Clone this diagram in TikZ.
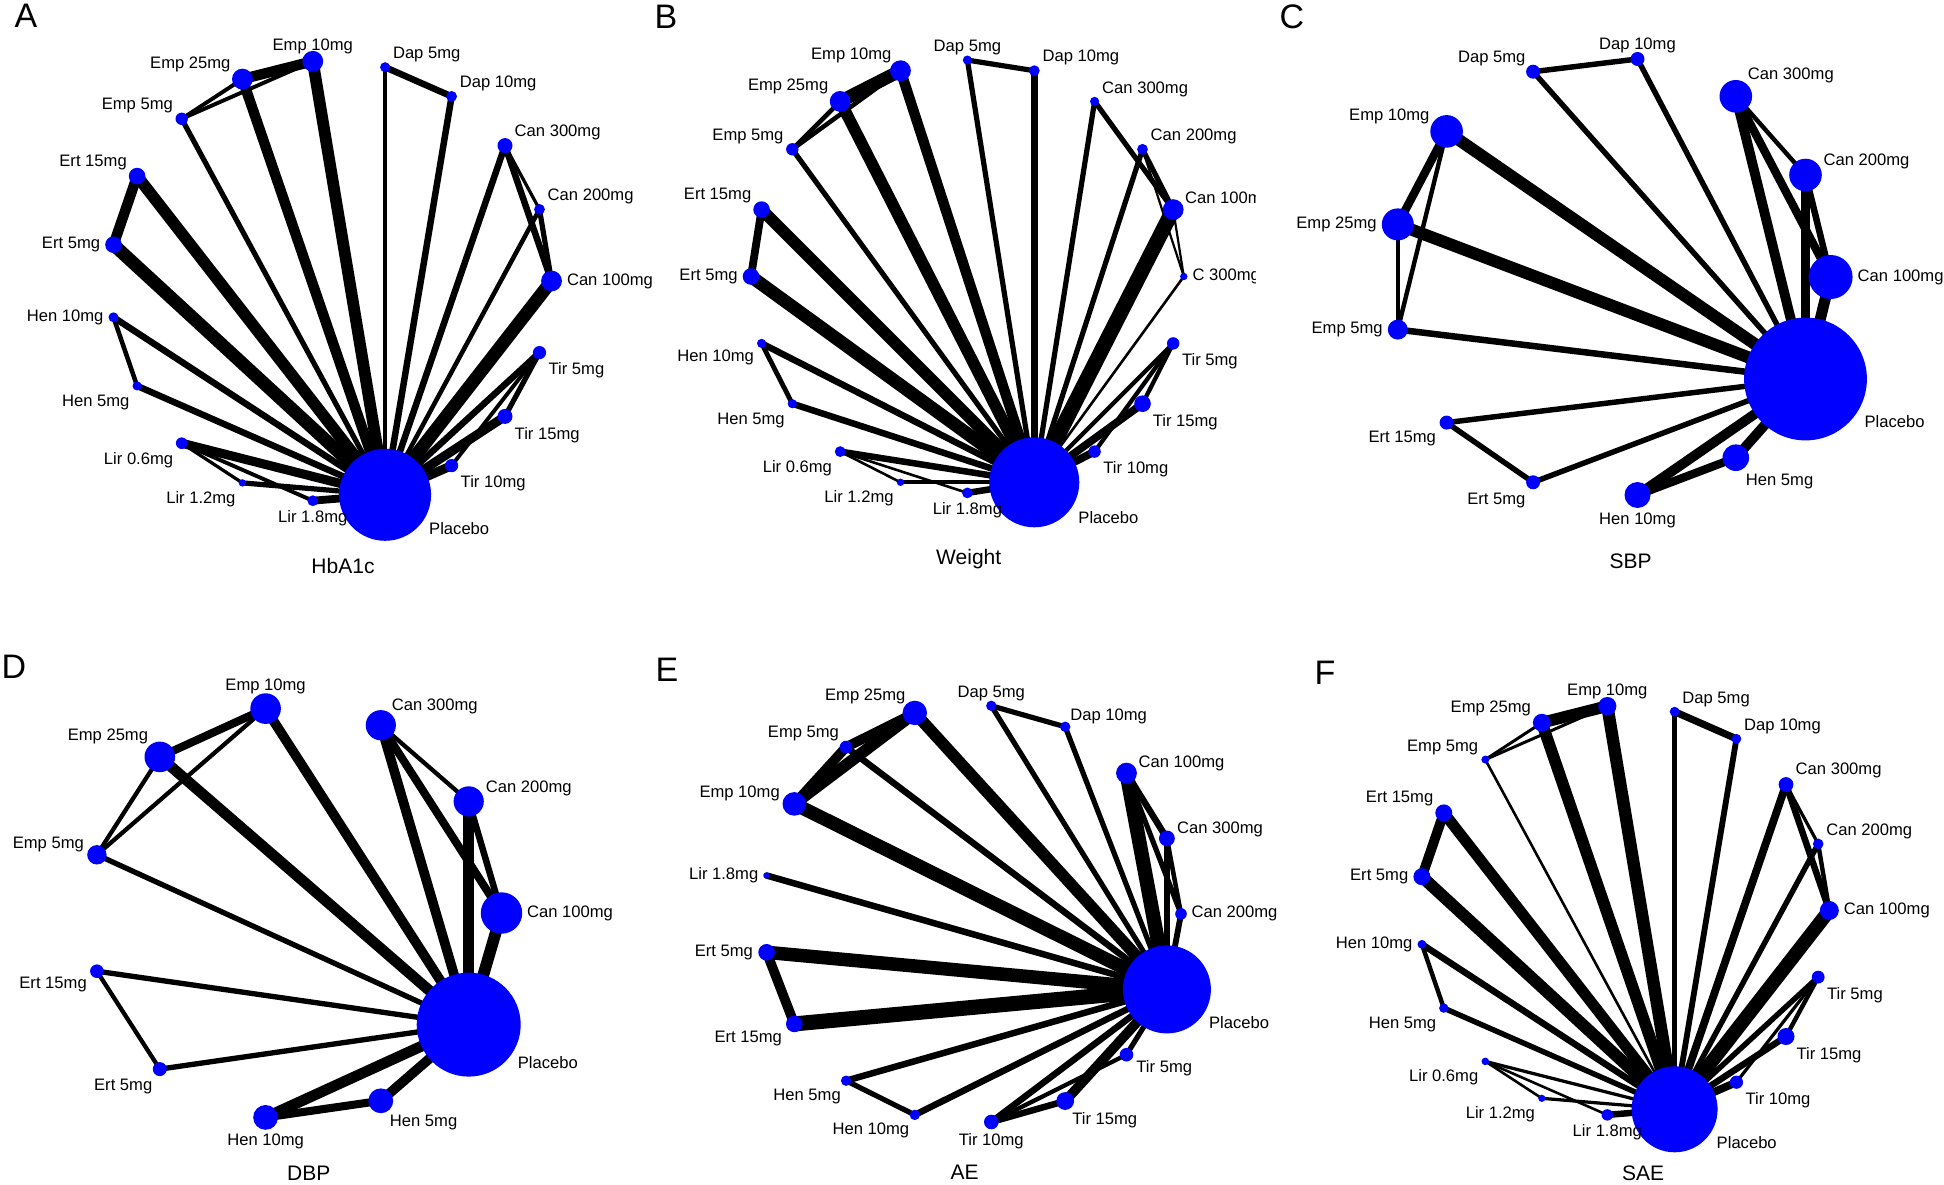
\documentclass[tikz,border=0pt]{standalone}
\usepackage{fontspec}
\setmainfont{Liberation Sans}
\usetikzlibrary{backgrounds}

\tikzset{every picture/.style={line width=0.75pt}}
\tikzset{
  trt/.style={circle, fill={rgb, 255:red, 0; green, 0; blue, 255}, draw=none, inner sep=0pt},
  lbl/.style={inner sep=0.75pt, font=\fontsize{16.6}{19.5}\selectfont},
  ttl/.style={inner sep=0.75pt, font=\fontsize{21}{25}\selectfont},
  pnl/.style={inner sep=0pt, font=\fontsize{34}{40}\selectfont},
  lnk/.style={draw=black, line cap=round, line width=1.3*#1},
}

\begin{document}
\begin{tikzpicture}[x=1pt,y=1pt,yscale=-1,xscale=1]
\useasboundingbox (0,0) rectangle (1944,1185);

% ---------------- Panel A : HbA1c ----------------
\node[pnl] (a-tag) at (26,16) {A};
\node[ttl] (a-ttl) at (343,566) {HbA1c};
\node[trt, minimum size=20.8] (a-can100) at (551.5,281.0) {};
\node[trt, minimum size=10.8] (a-can200) at (539.5,209.4) {};
\node[trt, minimum size=15]   (a-can300) at (505.0,145.6) {};
\node[trt, minimum size=10.8] (a-dap10) at (451.6,96.4) {};
\node[trt, minimum size=10]   (a-dap5) at (385.1,67.2) {};
\node[trt, minimum size=20.8] (a-emp10) at (312.8,61.3) {};
\node[trt, minimum size=20.8] (a-emp25) at (242.4,79.1) {};
\node[trt, minimum size=12.4] (a-emp5) at (181.7,118.8) {};
\node[trt, minimum size=16.6] (a-ert15) at (137.1,176.1) {};
\node[trt, minimum size=16.6] (a-ert5) at (113.5,244.7) {};
\node[trt, minimum size=10]   (a-hen10) at (113.5,317.3) {};
\node[trt, minimum size=9.2]  (a-hen5) at (137.1,385.9) {};
\node[trt, minimum size=11.6] (a-lir06) at (181.7,443.2) {};
\node[trt, minimum size=7.4]  (a-lir12) at (242.4,482.9) {};
\node[trt, minimum size=10.8] (a-lir18) at (312.8,500.7) {};
\node[trt, minimum size=92]   (a-pla) at (385.1,494.8) {};
\node[trt, minimum size=13.2] (a-tir10) at (451.6,465.6) {};
\node[trt, minimum size=15]   (a-tir15) at (505.0,416.4) {};
\node[trt, minimum size=13.2] (a-tir5) at (539.5,352.6) {};
% labels
\node[lbl, anchor=west] (a-can100-t) at ([shift={(14.4,0)}]a-can100.center) {Can 100mg};
\node[lbl, anchor=south west] (a-can200-t) at ([shift={(7.1,-4.2)}]a-can200.center) {Can 200mg};
\node[lbl, anchor=south west] (a-can300-t) at ([shift={(8.6,-5)}]a-can300.center) {Can 300mg};
\node[lbl, anchor=south west] (a-dap10-t) at ([shift={(7.1,-4.2)}]a-dap10.center) {Dap 10mg};
\node[lbl, anchor=south west] (a-dap5-t) at ([shift={(6.8,-4)}]a-dap5.center) {Dap 5mg};
\node[lbl, anchor=south] (a-emp10-t) at ([shift={(0,-6.2)}]a-emp10.center) {Emp 10mg};
\node[lbl, anchor=south east] (a-emp25-t) at ([shift={(-10.8,-6.2)}]a-emp25.center) {Emp 25mg};
\node[lbl, anchor=south east] (a-emp5-t) at ([shift={(-7.7,-4.5)}]a-emp5.center) {Emp 5mg};
\node[lbl, anchor=south east] (a-ert15-t) at ([shift={(-9.2,-5.3)}]a-ert15.center) {Ert 15mg};
\node[lbl, anchor=east] (a-ert5-t) at ([shift={(-12.3,0)}]a-ert5.center) {Ert 5mg};
\node[lbl, anchor=east] (a-hen10-t) at ([shift={(-9,0)}]a-hen10.center) {Hen 10mg};
\node[lbl, anchor=north east] (a-hen5-t) at ([shift={(-6.5,7.8)}]a-hen5.center) {Hen 5mg};
\node[lbl, anchor=north east] (a-lir06-t) at ([shift={(-7.4,8.5)}]a-lir06.center) {Lir 0.6mg};
\node[lbl, anchor=north east] (a-lir12-t) at ([shift={(-5.8,7.2)}]a-lir12.center) {Lir 1.2mg};
\node[lbl, anchor=north] (a-lir18-t) at ([shift={(0,8.2)}]a-lir18.center) {Lir 1.8mg};
\node[lbl, anchor=west] (a-pla-t) at ([shift={(43,34)}]a-pla.center) {Placebo};
\node[lbl, anchor=north west] (a-tir10-t) at ([shift={(8,9)}]a-tir10.center) {Tir 10mg};
\node[lbl, anchor=north west] (a-tir15-t) at ([shift={(8.6,9.5)}]a-tir15.center) {Tir 15mg};
\node[lbl, anchor=north west] (a-tir5-t) at ([shift={(8,9)}]a-tir5.center) {Tir 5mg};

% ---------------- Panel B : Weight ----------------
\node[pnl] (b-tag) at (666,17) {B};
\node[ttl] (b-ttl) at (968.7,558.8) {Weight};
\node[trt, minimum size=7.4]  (b-c300) at (1183.8,276.5) {};
\node[trt, minimum size=20.8] (b-can100) at (1173.2,209.6) {};
\node[trt, minimum size=10.8] (b-can200) at (1142.5,149.3) {};
\node[trt, minimum size=9.2]  (b-can300) at (1094.6,101.4) {};
\node[trt, minimum size=10.8] (b-dap10) at (1034.3,70.7) {};
\node[trt, minimum size=9.2]  (b-dap5) at (967.4,60.1) {};
\node[trt, minimum size=20.8] (b-emp10) at (900.5,70.7) {};
\node[trt, minimum size=20.8] (b-emp25) at (840.2,101.4) {};
\node[trt, minimum size=12.4] (b-emp5) at (792.3,149.3) {};
\node[trt, minimum size=16.6] (b-ert15) at (761.6,209.6) {};
\node[trt, minimum size=16.6] (b-ert5) at (751.0,276.5) {};
\node[trt, minimum size=9.2]  (b-hen10) at (761.6,343.4) {};
\node[trt, minimum size=9.2]  (b-hen5) at (792.3,403.7) {};
\node[trt, minimum size=10.8] (b-lir06) at (840.2,451.6) {};
\node[trt, minimum size=7.4]  (b-lir12) at (900.5,482.3) {};
\node[trt, minimum size=10.8] (b-lir18) at (967.4,492.9) {};
\node[trt, minimum size=90]   (b-pla) at (1034.3,482.3) {};
\node[trt, minimum size=12.4] (b-tir10) at (1094.6,451.6) {};
\node[trt, minimum size=16.6] (b-tir15) at (1142.5,403.7) {};
\node[trt, minimum size=12.4] (b-tir5) at (1173.2,343.4) {};
% labels
\begin{scope}
\clip (645,0) rectangle (1255,590);
\node[lbl, anchor=west] (b-c300-t) at ([shift={(7.7,0)}]b-c300.center) {C 300mg};
\node[lbl, anchor=south west] (b-can100-t) at ([shift={(10.8,-2)}]b-can100.center) {Can 100mg};
\end{scope}
\node[lbl, anchor=south west] (b-can200-t) at ([shift={(7.1,-4.2)}]b-can200.center) {Can 200mg};
\node[lbl, anchor=south west] (b-can300-t) at ([shift={(6.5,-3.8)}]b-can300.center) {Can 300mg};
\node[lbl, anchor=south west] (b-dap10-t) at ([shift={(7.1,-4.2)}]b-dap10.center) {Dap 10mg};
\node[lbl, anchor=south] (b-dap5-t) at ([shift={(0,-3.8)}]b-dap5.center) {Dap 5mg};
\node[lbl, anchor=south east] (b-emp10-t) at ([shift={(-8,-6.2)}]b-emp10.center) {Emp 10mg};
\node[lbl, anchor=south east] (b-emp25-t) at ([shift={(-10.8,-6.2)}]b-emp25.center) {Emp 25mg};
\node[lbl, anchor=south east] (b-emp5-t) at ([shift={(-7.7,-4.5)}]b-emp5.center) {Emp 5mg};
\node[lbl, anchor=south east] (b-ert15-t) at ([shift={(-9.2,-5.3)}]b-ert15.center) {Ert 15mg};
\node[lbl, anchor=east] (b-ert5-t) at ([shift={(-12.3,0)}]b-ert5.center) {Ert 5mg};
\node[lbl, anchor=north east] (b-hen10-t) at ([shift={(-6.5,5)}]b-hen10.center) {Hen 10mg};
\node[lbl, anchor=north east] (b-hen5-t) at ([shift={(-6.5,7.8)}]b-hen5.center) {Hen 5mg};
\node[lbl, anchor=north east] (b-lir06-t) at ([shift={(-7.1,8.2)}]b-lir06.center) {Lir 0.6mg};
\node[lbl, anchor=north east] (b-lir12-t) at ([shift={(-5.8,7.2)}]b-lir12.center) {Lir 1.2mg};
\node[lbl, anchor=north] (b-lir18-t) at ([shift={(0,8.2)}]b-lir18.center) {Lir 1.8mg};
\node[lbl, anchor=west] (b-pla-t) at ([shift={(43,35)}]b-pla.center) {Placebo};
\node[lbl, anchor=north west] (b-tir10-t) at ([shift={(7.7,8.7)}]b-tir10.center) {Tir 10mg};
\node[lbl, anchor=north west] (b-tir15-t) at ([shift={(9.2,10)}]b-tir15.center) {Tir 15mg};
\node[lbl, anchor=north west] (b-tir5-t) at ([shift={(7.7,8.7)}]b-tir5.center) {Tir 5mg};

% ---------------- Panel C : SBP ----------------
\node[pnl] (c-tag) at (1292,17) {C};
\node[ttl] (c-ttl) at (1630.7,561) {SBP};
\node[trt, minimum size=44]   (c-can100) at (1830.6,277.0) {};
\node[trt, minimum size=32.6] (c-can200) at (1805.5,175.0) {};
\node[trt, minimum size=32.6] (c-can300) at (1735.8,96.3) {};
\node[trt, minimum size=14]   (c-dap10) at (1637.5,59.0) {};
\node[trt, minimum size=14]   (c-dap5) at (1533.1,71.7) {};
\node[trt, minimum size=32.6] (c-emp10) at (1446.6,131.4) {};
\node[trt, minimum size=32]   (c-emp25) at (1397.8,224.4) {};
\node[trt, minimum size=20]   (c-emp5) at (1397.8,329.6) {};
\node[trt, minimum size=14]   (c-ert15) at (1446.6,422.6) {};
\node[trt, minimum size=14]   (c-ert5) at (1533.1,482.3) {};
\node[trt, minimum size=26]   (c-hen10) at (1637.5,495.0) {};
\node[trt, minimum size=26.6] (c-hen5) at (1735.8,457.7) {};
\node[trt, minimum size=122.8] (c-pla) at (1805.5,379.0) {};
% labels
\node[lbl, anchor=west] (c-can100-t) at ([shift={(26,0)}]c-can100.center) {Can 100mg};
\node[lbl, anchor=south west] (c-can200-t) at ([shift={(17,-4.5)}]c-can200.center) {Can 200mg};
\node[lbl, anchor=south west] (c-can300-t) at ([shift={(11,-12)}]c-can300.center) {Can 300mg};
\node[lbl, anchor=south] (c-dap10-t) at ([shift={(0,-4.8)}]c-dap10.center) {Dap 10mg};
\node[lbl, anchor=south east] (c-dap5-t) at ([shift={(-6.5,-4.8)}]c-dap5.center) {Dap 5mg};
\node[lbl, anchor=south east] (c-emp10-t) at ([shift={(-16,-6)}]c-emp10.center) {Emp 10mg};
\node[lbl, anchor=east] (c-emp25-t) at ([shift={(-20,0)}]c-emp25.center) {Emp 25mg};
\node[lbl, anchor=east] (c-emp5-t) at ([shift={(-14,0)}]c-emp5.center) {Emp 5mg};
\node[lbl, anchor=north east] (c-ert15-t) at ([shift={(-9.5,7)}]c-ert15.center) {Ert 15mg};
\node[lbl, anchor=north east] (c-ert5-t) at ([shift={(-6.5,10)}]c-ert5.center) {Ert 5mg};
\node[lbl, anchor=north] (c-hen10-t) at ([shift={(0,17)}]c-hen10.center) {Hen 10mg};
\node[lbl, anchor=north west] (c-hen5-t) at ([shift={(9,15)}]c-hen5.center) {Hen 5mg};
\node[lbl, anchor=west] (c-pla-t) at ([shift={(58,43)}]c-pla.center) {Placebo};

% ---------------- Panel D : DBP ----------------
\node[pnl] (d-tag) at (14,667) {D};
\node[ttl] (d-ttl) at (308.8,1173) {DBP};
\node[trt, minimum size=41.4] (d-can100) at (501.5,913.0) {};
\node[trt, minimum size=30.2] (d-can200) at (468.7,801.4) {};
\node[trt, minimum size=30.2] (d-can300) at (380.8,725.2) {};
\node[trt, minimum size=30.6] (d-emp10) at (265.6,708.6) {};
\node[trt, minimum size=30.6] (d-emp25) at (159.8,756.9) {};
\node[trt, minimum size=19.4] (d-emp5) at (96.9,854.8) {};
\node[trt, minimum size=13.6] (d-ert15) at (96.9,971.2) {};
\node[trt, minimum size=14]   (d-ert5) at (159.8,1069.1) {};
\node[trt, minimum size=24.8] (d-hen10) at (265.6,1117.4) {};
\node[trt, minimum size=24.8] (d-hen5) at (380.8,1100.8) {};
\node[trt, minimum size=104]  (d-pla) at (468.7,1024.6) {};
% labels
\node[lbl, anchor=west] (d-can100-t) at ([shift={(24.5,0)}]d-can100.center) {Can 100mg};
\node[lbl, anchor=south west] (d-can200-t) at ([shift={(16,-4)}]d-can200.center) {Can 200mg};
\node[lbl, anchor=south west] (d-can300-t) at ([shift={(10,-10.5)}]d-can300.center) {Can 300mg};
\node[lbl, anchor=south] (d-emp10-t) at ([shift={(0,-13.5)}]d-emp10.center) {Emp 10mg};
\node[lbl, anchor=south east] (d-emp25-t) at ([shift={(-10.6,-11.4)}]d-emp25.center) {Emp 25mg};
\node[lbl, anchor=south east] (d-emp5-t) at ([shift={(-11.9,-1.5)}]d-emp5.center) {Emp 5mg};
\node[lbl, anchor=north east] (d-ert15-t) at ([shift={(-9,5)}]d-ert15.center) {Ert 15mg};
\node[lbl, anchor=north east] (d-ert5-t) at ([shift={(-6.4,8.5)}]d-ert5.center) {Ert 5mg};
\node[lbl, anchor=north] (d-hen10-t) at ([shift={(0,15)}]d-hen10.center) {Hen 10mg};
\node[lbl, anchor=north west] (d-hen5-t) at ([shift={(8,12.8)}]d-hen5.center) {Hen 5mg};
\node[lbl, anchor=west] (d-pla-t) at ([shift={(48,38)}]d-pla.center) {Placebo};

% ---------------- Panel E : AE ----------------
\node[pnl] (e-tag) at (667,670) {E};
\node[ttl] (e-ttl) at (964.6,1172.5) {AE};
\node[trt, minimum size=11.6] (e-can200) at (1181.0,913.9) {};
\node[trt, minimum size=15.8] (e-can300) at (1166.9,838.4) {};
\node[trt, minimum size=20.8] (e-can100) at (1126.5,773.1) {};
\node[trt, minimum size=10.4] (e-dap10) at (1065.2,726.8) {};
\node[trt, minimum size=10.4] (e-dap5) at (991.3,705.8) {};
\node[trt, minimum size=24.4] (e-emp25) at (914.8,712.9) {};
\node[trt, minimum size=12.8] (e-emp5) at (846.1,747.1) {};
\node[trt, minimum size=23.6] (e-emp10) at (794.3,803.9) {};
\node[trt, minimum size=6.2]  (e-lir18) at (766.6,875.5) {};
\node[trt, minimum size=16.6] (e-ert5) at (766.6,952.3) {};
\node[trt, minimum size=16.6] (e-ert15) at (794.3,1023.9) {};
\node[trt, minimum size=10.4] (e-hen5) at (846.1,1080.7) {};
\node[trt, minimum size=10.4] (e-hen10) at (914.8,1114.9) {};
\node[trt, minimum size=14.6] (e-tir10) at (991.3,1122.0) {};
\node[trt, minimum size=17.8] (e-tir15) at (1065.2,1101.0) {};
\node[trt, minimum size=13.6] (e-tir5) at (1126.5,1054.7) {};
\node[trt, minimum size=88]   (e-pla) at (1166.9,989.4) {};
% labels
\node[lbl, anchor=west] (e-can200-t) at ([shift={(9.5,0)}]e-can200.center) {Can 200mg};
\node[lbl, anchor=south west] (e-can300-t) at ([shift={(9,0)}]e-can300.center) {Can 300mg};
\node[lbl, anchor=south west] (e-can100-t) at ([shift={(11,-1)}]e-can100.center) {Can 100mg};
\node[lbl, anchor=south west] (e-dap10-t) at ([shift={(4,-1.5)}]e-dap10.center) {Dap 10mg};
\node[lbl, anchor=south] (e-dap5-t) at ([shift={(0,-4.1)}]e-dap5.center) {Dap 5mg};
\node[lbl, anchor=south east] (e-emp25-t) at ([shift={(-8.3,-8)}]e-emp25.center) {Emp 25mg};
\node[lbl, anchor=south east] (e-emp5-t) at ([shift={(-6,-4.6)}]e-emp5.center) {Emp 5mg};
\node[lbl, anchor=south east] (e-emp10-t) at ([shift={(-13.4,-2)}]e-emp10.center) {Emp 10mg};
\node[lbl, anchor=east] (e-lir18-t) at ([shift={(-7.2,0)}]e-lir18.center) {Lir 1.8mg};
\node[lbl, anchor=east] (e-ert5-t) at ([shift={(-12.6,0)}]e-ert5.center) {Ert 5mg};
\node[lbl, anchor=north east] (e-ert15-t) at ([shift={(-11.3,6)}]e-ert15.center) {Ert 15mg};
\node[lbl, anchor=north east] (e-hen5-t) at ([shift={(-4.2,7)}]e-hen5.center) {Hen 5mg};
\node[lbl, anchor=north east] (e-hen10-t) at ([shift={(-4.5,7)}]e-hen10.center) {Hen 10mg};
\node[lbl, anchor=north] (e-tir10-t) at ([shift={(0,10)}]e-tir10.center) {Tir 10mg};
\node[lbl, anchor=north west] (e-tir15-t) at ([shift={(6,10)}]e-tir15.center) {Tir 15mg};
\node[lbl, anchor=north west] (e-tir5-t) at ([shift={(8.8,5)}]e-tir5.center) {Tir 5mg};
\node[lbl, anchor=west] (e-pla-t) at ([shift={(41,33)}]e-pla.center) {Placebo};

% ---------------- Panel F : SAE ----------------
\node[pnl] (f-tag) at (1325,673) {F};
\node[ttl] (f-ttl) at (1643,1173) {SAE};
\node[trt, minimum size=19]   (f-can100) at (1829.3,910.5) {};
\node[trt, minimum size=10.6] (f-can200) at (1818.2,843.9) {};
\node[trt, minimum size=14.8] (f-can300) at (1786.0,784.5) {};
\node[trt, minimum size=9.8]  (f-dap10) at (1736.4,738.8) {};
\node[trt, minimum size=9.8]  (f-dap5) at (1674.6,711.7) {};
\node[trt, minimum size=18.2] (f-emp10) at (1607.3,706.1) {};
\node[trt, minimum size=17.8] (f-emp25) at (1541.8,722.7) {};
\node[trt, minimum size=8]    (f-emp5) at (1485.3,759.6) {};
\node[trt, minimum size=17]   (f-ert15) at (1443.8,812.9) {};
\node[trt, minimum size=17]   (f-ert5) at (1421.9,876.7) {};
\node[trt, minimum size=8.8]  (f-hen10) at (1421.9,944.3) {};
\node[trt, minimum size=9.4]  (f-hen5) at (1443.8,1008.1) {};
\node[trt, minimum size=7.6]  (f-lir06) at (1485.3,1061.4) {};
\node[trt, minimum size=7.2]  (f-lir12) at (1541.8,1098.3) {};
\node[trt, minimum size=11.4] (f-lir18) at (1607.3,1114.9) {};
\node[trt, minimum size=86]   (f-pla) at (1674.6,1109.3) {};
\node[trt, minimum size=13.2] (f-tir10) at (1736.4,1082.2) {};
\node[trt, minimum size=17]   (f-tir15) at (1786.0,1036.5) {};
\node[trt, minimum size=12.8] (f-tir5) at (1818.2,977.1) {};
% labels
\node[lbl, anchor=west] (f-can100-t) at ([shift={(13.5,0)}]f-can100.center) {Can 100mg};
\node[lbl, anchor=south west] (f-can200-t) at ([shift={(7,-4.1)}]f-can200.center) {Can 200mg};
\node[lbl, anchor=south west] (f-can300-t) at ([shift={(8.6,-5)}]f-can300.center) {Can 300mg};
\node[lbl, anchor=south west] (f-dap10-t) at ([shift={(6.7,-4)}]f-dap10.center) {Dap 10mg};
\node[lbl, anchor=south west] (f-dap5-t) at ([shift={(6.7,-4)}]f-dap5.center) {Dap 5mg};
\node[lbl, anchor=south] (f-emp10-t) at ([shift={(0,-5.6)}]f-emp10.center) {Emp 10mg};
\node[lbl, anchor=south east] (f-emp25-t) at ([shift={(-9.7,-5.6)}]f-emp25.center) {Emp 25mg};
\node[lbl, anchor=south east] (f-emp5-t) at ([shift={(-6,-3.6)}]f-emp5.center) {Emp 5mg};
\node[lbl, anchor=south east] (f-ert15-t) at ([shift={(-9.4,-5.4)}]f-ert15.center) {Ert 15mg};
\node[lbl, anchor=east] (f-ert5-t) at ([shift={(-12.5,0)}]f-ert5.center) {Ert 5mg};
\node[lbl, anchor=east] (f-hen10-t) at ([shift={(-8.4,0)}]f-hen10.center) {Hen 10mg};
\node[lbl, anchor=north east] (f-hen5-t) at ([shift={(-6.5,7.8)}]f-hen5.center) {Hen 5mg};
\node[lbl, anchor=north east] (f-lir06-t) at ([shift={(-5.9,7.3)}]f-lir06.center) {Lir 0.6mg};
\node[lbl, anchor=north east] (f-lir12-t) at ([shift={(-5.7,7.2)}]f-lir12.center) {Lir 1.2mg};
\node[lbl, anchor=north] (f-lir18-t) at ([shift={(0,8.4)}]f-lir18.center) {Lir 1.8mg};
\node[lbl, anchor=west] (f-pla-t) at ([shift={(41,33)}]f-pla.center) {Placebo};
\node[lbl, anchor=north west] (f-tir10-t) at ([shift={(8,9)}]f-tir10.center) {Tir 10mg};
\node[lbl, anchor=north west] (f-tir15-t) at ([shift={(9.4,10.1)}]f-tir15.center) {Tir 15mg};
\node[lbl, anchor=north west] (f-tir5-t) at ([shift={(7.8,8.8)}]f-tir5.center) {Tir 5mg};

% ---------------- connectors (under the nodes) ----------------
\begin{pgfonlayer}{background}
% A
\draw[lnk=8]   (a-emp10.center) -- (a-emp25.center);
\draw[lnk=3]   (a-emp25.center) -- (a-emp5.center);
\draw[lnk=3]   (a-emp10.center) -- (a-emp5.center);
\draw[lnk=9]   (a-emp10.center) -- (a-pla.center);
\draw[lnk=8]   (a-emp25.center) -- (a-pla.center);
\draw[lnk=4]   (a-emp5.center) -- (a-pla.center);
\draw[lnk=5]   (a-dap5.center) -- (a-dap10.center);
\draw[lnk=3.5] (a-dap5.center) -- (a-pla.center);
\draw[lnk=5]   (a-dap10.center) -- (a-pla.center);
\draw[lnk=2.5] (a-can300.center) -- (a-can200.center);
\draw[lnk=5]   (a-can300.center) -- (a-can100.center);
\draw[lnk=4]   (a-can200.center) -- (a-can100.center);
\draw[lnk=5]   (a-can300.center) -- (a-pla.center);
\draw[lnk=3.5] (a-can200.center) -- (a-pla.center);
\draw[lnk=10]  (a-can100.center) -- (a-pla.center);
\draw[lnk=8]   (a-ert15.center) -- (a-ert5.center);
\draw[lnk=9]   (a-ert15.center) -- (a-pla.center);
\draw[lnk=10]  (a-ert5.center) -- (a-pla.center);
\draw[lnk=3.5] (a-hen10.center) -- (a-hen5.center);
\draw[lnk=5]   (a-hen10.center) -- (a-pla.center);
\draw[lnk=5]   (a-hen5.center) -- (a-pla.center);
\draw[lnk=4]   (a-tir5.center) -- (a-tir15.center);
\draw[lnk=3]   (a-tir5.center) -- (a-tir10.center);
\draw[lnk=5]   (a-tir5.center) -- (a-pla.center);
\draw[lnk=7]   (a-tir15.center) -- (a-pla.center);
\draw[lnk=7]   (a-tir10.center) -- (a-pla.center);
\draw[lnk=2.5] (a-lir06.center) -- (a-lir12.center);
\draw[lnk=3]   (a-lir06.center) -- (a-lir18.center);
\draw[lnk=7]   (a-lir06.center) -- (a-pla.center);
\draw[lnk=4]   (a-lir12.center) -- (a-pla.center);
\draw[lnk=6]   (a-lir18.center) -- (a-pla.center);
% B
\draw[lnk=10]  (b-emp10.center) -- (b-emp25.center);
\draw[lnk=3.5] (b-emp25.center) -- (b-emp5.center);
\draw[lnk=3.5] (b-emp10.center) -- (b-emp5.center);
\draw[lnk=8]   (b-emp10.center) -- (b-pla.center);
\draw[lnk=9]   (b-emp25.center) -- (b-pla.center);
\draw[lnk=4]   (b-emp5.center) -- (b-pla.center);
\draw[lnk=4]   (b-dap5.center) -- (b-dap10.center);
\draw[lnk=4]   (b-dap5.center) -- (b-pla.center);
\draw[lnk=5.5] (b-dap10.center) -- (b-pla.center);
\draw[lnk=4]   (b-can300.center) -- (b-can100.center);
\draw[lnk=4]   (b-can300.center) -- (b-pla.center);
\draw[lnk=4]   (b-can200.center) -- (b-can100.center);
\draw[lnk=4]   (b-can200.center) -- (b-pla.center);
\draw[lnk=1.7] (b-can200.center) -- (b-c300.center);
\draw[lnk=1.7] (b-can100.center) -- (b-c300.center);
\draw[lnk=11.5] (b-can100.center) -- (b-pla.center);
\draw[lnk=2]   (b-c300.center) -- (b-pla.center);
\draw[lnk=6]   (b-ert15.center) -- (b-ert5.center);
\draw[lnk=9]   (b-ert15.center) -- (b-pla.center);
\draw[lnk=10]  (b-ert5.center) -- (b-pla.center);
\draw[lnk=3.7] (b-hen10.center) -- (b-hen5.center);
\draw[lnk=5]   (b-hen10.center) -- (b-pla.center);
\draw[lnk=5]   (b-hen5.center) -- (b-pla.center);
\draw[lnk=3.3] (b-tir5.center) -- (b-tir15.center);
\draw[lnk=3.3] (b-tir5.center) -- (b-tir10.center);
\draw[lnk=3.3] (b-tir5.center) -- (b-pla.center);
\draw[lnk=6]   (b-tir15.center) -- (b-pla.center);
\draw[lnk=6]   (b-tir10.center) -- (b-pla.center);
\draw[lnk=2]   (b-lir06.center) -- (b-lir12.center);
\draw[lnk=2]   (b-lir06.center) -- (b-lir18.center);
\draw[lnk=5]   (b-lir06.center) -- (b-pla.center);
\draw[lnk=3.3] (b-lir12.center) -- (b-pla.center);
\draw[lnk=5]   (b-lir18.center) -- (b-pla.center);
% C
\draw[lnk=4.2] (c-dap5.center) -- (c-dap10.center);
\draw[lnk=4.2] (c-dap5.center) -- (c-pla.center);
\draw[lnk=4.2] (c-dap10.center) -- (c-pla.center);
\draw[lnk=7.6] (c-can300.center) -- (c-pla.center);
\draw[lnk=3.4] (c-can300.center) -- (c-can200.center);
\draw[lnk=6.4] (c-can300.center) -- (c-can100.center);
\draw[lnk=7.6] (c-can200.center) -- (c-pla.center);
\draw[lnk=5]   (c-can200.center) -- (c-can100.center);
\draw[lnk=8.5] (c-can100.center) -- (c-pla.center);
\draw[lnk=6.4] (c-emp10.center) -- (c-emp25.center);
\draw[lnk=3.4] (c-emp10.center) -- (c-emp5.center);
\draw[lnk=9.3] (c-emp10.center) -- (c-pla.center);
\draw[lnk=3.4] (c-emp25.center) -- (c-emp5.center);
\draw[lnk=9.3] (c-emp25.center) -- (c-pla.center);
\draw[lnk=5]   (c-emp5.center) -- (c-pla.center);
\draw[lnk=4.2] (c-ert15.center) -- (c-ert5.center);
\draw[lnk=4.2] (c-ert15.center) -- (c-pla.center);
\draw[lnk=4.2] (c-ert5.center) -- (c-pla.center);
\draw[lnk=6.4] (c-hen10.center) -- (c-hen5.center);
\draw[lnk=7.6] (c-hen10.center) -- (c-pla.center);
\draw[lnk=7.6] (c-hen5.center) -- (c-pla.center);
% D
\draw[lnk=6.2] (d-emp10.center) -- (d-emp25.center);
\draw[lnk=3.3] (d-emp10.center) -- (d-emp5.center);
\draw[lnk=7.5] (d-emp10.center) -- (d-pla.center);
\draw[lnk=3.3] (d-emp25.center) -- (d-emp5.center);
\draw[lnk=8.3] (d-emp25.center) -- (d-pla.center);
\draw[lnk=4.1] (d-emp5.center) -- (d-pla.center);
\draw[lnk=3.3] (d-can300.center) -- (d-can200.center);
\draw[lnk=6.2] (d-can300.center) -- (d-can100.center);
\draw[lnk=7.5] (d-can300.center) -- (d-pla.center);
\draw[lnk=5]   (d-can200.center) -- (d-can100.center);
\draw[lnk=8.3] (d-can200.center) -- (d-pla.center);
\draw[lnk=9]   (d-can100.center) -- (d-pla.center);
\draw[lnk=3.3] (d-ert15.center) -- (d-ert5.center);
\draw[lnk=4.1] (d-ert15.center) -- (d-pla.center);
\draw[lnk=4.1] (d-ert5.center) -- (d-pla.center);
\draw[lnk=6.2] (d-hen10.center) -- (d-hen5.center);
\draw[lnk=8.3] (d-hen10.center) -- (d-pla.center);
\draw[lnk=7.5] (d-hen5.center) -- (d-pla.center);
% E
\draw[lnk=7.5] (e-emp25.center) -- (e-emp5.center);
\draw[lnk=9]   (e-emp25.center) -- (e-emp10.center);
\draw[lnk=7.5] (e-emp5.center) -- (e-emp10.center);
\draw[lnk=9]   (e-emp25.center) -- (e-pla.center);
\draw[lnk=10.4] (e-emp10.center) -- (e-pla.center);
\draw[lnk=5]   (e-emp5.center) -- (e-pla.center);
\draw[lnk=4]   (e-dap5.center) -- (e-dap10.center);
\draw[lnk=4]   (e-dap5.center) -- (e-pla.center);
\draw[lnk=4]   (e-dap10.center) -- (e-pla.center);
\draw[lnk=5]   (e-can100.center) -- (e-can300.center);
\draw[lnk=4]   (e-can100.center) -- (e-can200.center);
\draw[lnk=11]  (e-can100.center) -- (e-pla.center);
\draw[lnk=3.5] (e-can300.center) -- (e-can200.center);
\draw[lnk=5]   (e-can300.center) -- (e-pla.center);
\draw[lnk=4.5] (e-can200.center) -- (e-pla.center);
\draw[lnk=5]   (e-lir18.center) -- (e-pla.center);
\draw[lnk=7.5] (e-ert5.center) -- (e-ert15.center);
\draw[lnk=10.4] (e-ert5.center) -- (e-pla.center);
\draw[lnk=11.6] (e-ert15.center) -- (e-pla.center);
\draw[lnk=4]   (e-hen5.center) -- (e-hen10.center);
\draw[lnk=5]   (e-hen5.center) -- (e-pla.center);
\draw[lnk=5]   (e-hen10.center) -- (e-pla.center);
\draw[lnk=5]   (e-tir10.center) -- (e-tir15.center);
\draw[lnk=3.3] (e-tir10.center) -- (e-tir5.center);
\draw[lnk=5]   (e-tir10.center) -- (e-pla.center);
\draw[lnk=7.5] (e-tir15.center) -- (e-pla.center);
\draw[lnk=4]   (e-tir5.center) -- (e-pla.center);
% F
\draw[lnk=9]   (f-emp10.center) -- (f-emp25.center);
\draw[lnk=2.3] (f-emp25.center) -- (f-emp5.center);
\draw[lnk=2.3] (f-emp10.center) -- (f-emp5.center);
\draw[lnk=9.5] (f-emp10.center) -- (f-pla.center);
\draw[lnk=9]   (f-emp25.center) -- (f-pla.center);
\draw[lnk=2]   (f-emp5.center) -- (f-pla.center);
\draw[lnk=5.5] (f-dap5.center) -- (f-dap10.center);
\draw[lnk=3.4] (f-dap5.center) -- (f-pla.center);
\draw[lnk=4.5] (f-dap10.center) -- (f-pla.center);
\draw[lnk=6]   (f-can300.center) -- (f-pla.center);
\draw[lnk=2.5] (f-can300.center) -- (f-can200.center);
\draw[lnk=5]   (f-can300.center) -- (f-can100.center);
\draw[lnk=3.4] (f-can200.center) -- (f-can100.center);
\draw[lnk=4.2] (f-can200.center) -- (f-pla.center);
\draw[lnk=10.6] (f-can100.center) -- (f-pla.center);
\draw[lnk=7.6] (f-ert15.center) -- (f-ert5.center);
\draw[lnk=8.5] (f-ert15.center) -- (f-pla.center);
\draw[lnk=9.3] (f-ert5.center) -- (f-pla.center);
\draw[lnk=3.4] (f-hen10.center) -- (f-hen5.center);
\draw[lnk=5]   (f-hen10.center) -- (f-pla.center);
\draw[lnk=4.2] (f-hen5.center) -- (f-pla.center);
\draw[lnk=3.4] (f-tir5.center) -- (f-tir15.center);
\draw[lnk=2.5] (f-tir5.center) -- (f-tir10.center);
\draw[lnk=4.2] (f-tir5.center) -- (f-pla.center);
\draw[lnk=5]   (f-tir15.center) -- (f-pla.center);
\draw[lnk=6]   (f-tir10.center) -- (f-pla.center);
\draw[lnk=2]   (f-lir06.center) -- (f-lir12.center);
\draw[lnk=2]   (f-lir06.center) -- (f-lir18.center);
\draw[lnk=2.5] (f-lir06.center) -- (f-pla.center);
\draw[lnk=2.5] (f-lir12.center) -- (f-pla.center);
\draw[lnk=5]   (f-lir18.center) -- (f-pla.center);
\end{pgfonlayer}

\end{tikzpicture}
\end{document}
